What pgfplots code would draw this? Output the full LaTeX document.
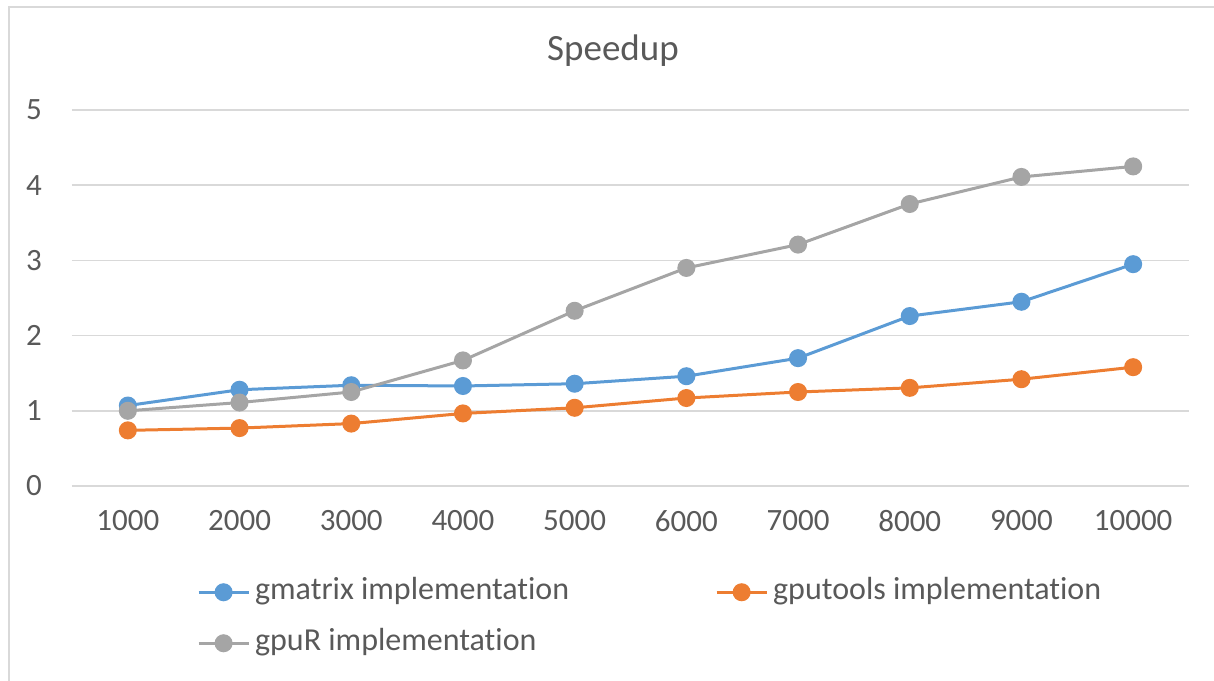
\documentclass[border=0pt]{standalone}
\usepackage{pgfplots}
\pgfplotsset{compat=1.18}
\usepackage{fontspec}
\setmainfont[RawFeature={-liga;-clig;-calt;-dlig}]{Carlito}

\definecolor{sblue}{HTML}{5B9BD5}
\definecolor{sorange}{HTML}{ED7D31}
\definecolor{sgray}{HTML}{A5A5A5}
\definecolor{txt}{HTML}{595959}
\definecolor{gridc}{HTML}{D9D9D9}

\begin{document}
\begin{tikzpicture}
  % page = 1214 x 680, origin at lower left of the plot area
  \useasboundingbox (-72pt,-194pt) rectangle (1142pt,486pt);
  \draw[gridc, line width=1.5pt] (-63pt,-200pt) -- (-63pt,479pt) -- (1150pt,479pt);
  \node[anchor=base, font=\fontsize{37}{44}\selectfont, text=txt] at (541pt,425pt) {Speedup};
  \begin{axis}[
      at={(0,0)}, anchor=south west,
      scale only axis,
      width=1117pt, height=376pt,
      xmin=0.5, xmax=10.5,
      ymin=0, ymax=5,
      xtick=data,
      xticklabels={1000,2000,3000,4000,5000,6000,7000,8000,9000,10000},
      ytick={0,1,2,3,4,5},
      ymajorgrids,
      grid style={gridc, line width=1.5pt},
      axis line style={draw=none},
      major tick length=0pt,
      clip=false,
      /pgf/number format/assume math mode=true,
      tick label style={font=\fontsize{31}{37}\selectfont, text=txt, inner sep=0pt},
      xticklabel style={anchor=north},
      xticklabel shift=24pt,
      yticklabel style={anchor=east},
      yticklabel shift=30pt,
      every axis plot/.append style={line width=3pt, mark=*, mark size=7.5pt},
      legend columns=2,
      legend cell align=left,
      legend style={
        draw=none, fill=none,
        at={(axis description cs:0.112,-0.244)}, anchor=north west,
        inner sep=0pt, outer sep=0pt,
        font=\fontsize{32}{38}\selectfont, text=txt,
        nodes={inner sep=0pt, text height=22pt, text depth=7pt},
        column sep=5pt, row sep=22pt,
        /tikz/every even column/.append style={column sep=146pt},
      },
      legend image code/.code={
        \draw[mark repeat=2, mark phase=2, #1] plot coordinates {(0pt,0pt) (25pt,0pt) (50pt,0pt)};
      },
    ]
    \addplot[sblue, mark options={fill=sblue}] coordinates {
      (1,1.07) (2,1.28) (3,1.34) (4,1.33) (5,1.36)
      (6,1.46) (7,1.70) (8,2.26) (9,2.45) (10,2.95)
    };
    \addlegendentry{gmatrix implementation}
    \addplot[sorange, mark options={fill=sorange}] coordinates {
      (1,0.74) (2,0.77) (3,0.83) (4,0.965) (5,1.04)
      (6,1.17) (7,1.25) (8,1.305) (9,1.42) (10,1.58)
    };
    \addlegendentry{gputools implementation}
    \addplot[sgray, mark options={fill=sgray}] coordinates {
      (1,1.00) (2,1.11) (3,1.25) (4,1.67) (5,2.33)
      (6,2.90) (7,3.21) (8,3.75) (9,4.11) (10,4.25)
    };
    \addlegendentry{gpuR implementation}
  \end{axis}
\end{tikzpicture}
\end{document}
